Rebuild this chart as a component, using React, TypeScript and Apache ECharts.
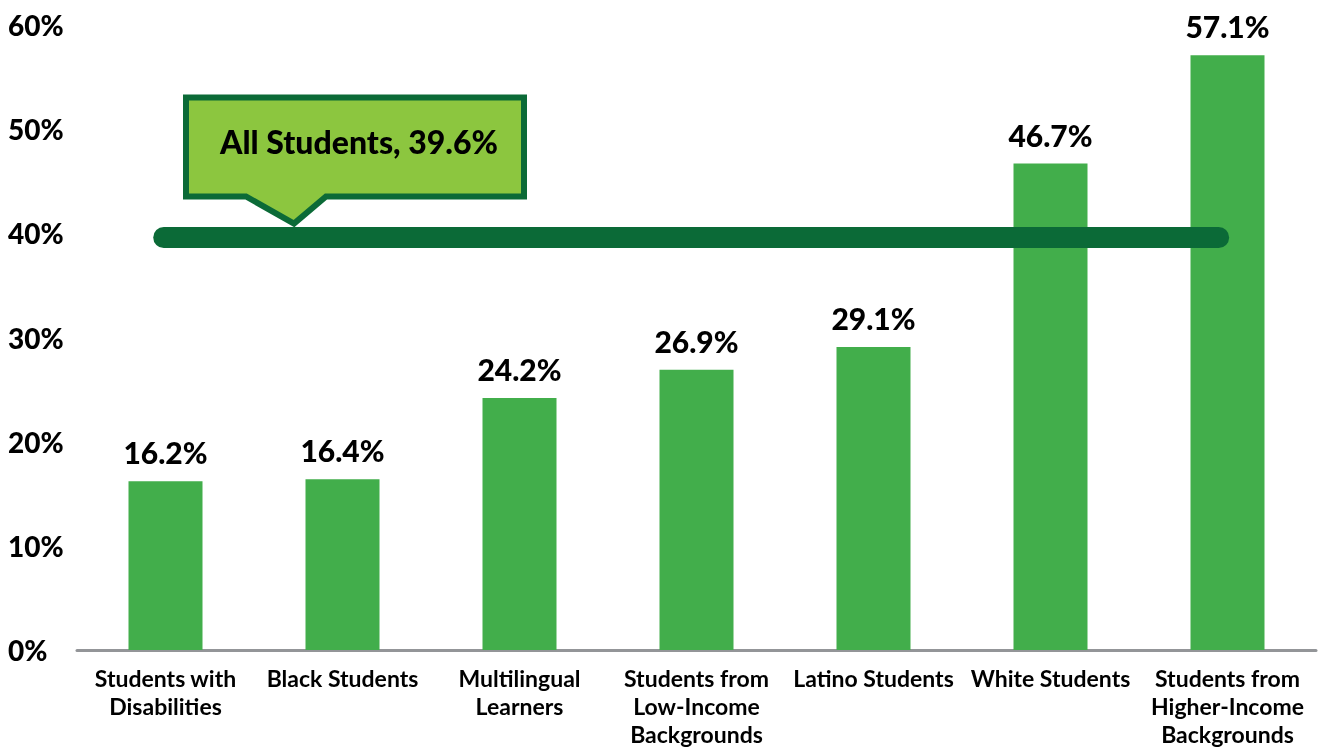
import React, { useEffect, useRef } from "react";
import * as echarts from "echarts";

const CATEGORIES = [
  "Students with\nDisabilities",
  "Black Students",
  "Multilingual\nLearners",
  "Students from\nLow-Income\nBackgrounds",
  "Latino Students",
  "White Students",
  "Students from\nHigher-Income\nBackgrounds",
];
const VALUES = [16.2, 16.4, 24.2, 26.9, 29.1, 46.7, 57.1];
const Y_MIN = 0;
const Y_MAX = 60;
const Y_INTERVAL = 10;
const ALL_STUDENTS = 39.6;
const ALL_LABEL = "All Students, 39.6%";

// styling
const FONT = "Lato";
const WEIGHT = 900;
const BAR_COLOR = "#42ae4b";
const DARK_GREEN = "#0b6a37";
const LIGHT_GREEN = "#8cc63f";
const LINE_SPAN = [-0.01, 5.95];

export default function App() {
  const ref = useRef<HTMLDivElement>(null);
  useEffect(() => {
    if (!ref.current) return;
    const chart = echarts.init(ref.current, null, { renderer: "svg" });
    chart.setOption({
      animation: false,
      grid: { left: 77, right: 4, top: 25, bottom: 103, containLabel: false },
      xAxis: [
        {
          type: "category",
          data: CATEGORIES,
          axisLine: { show: true, lineStyle: { color: "#939598", width: 3 } },
          axisTick: { show: false },
          axisLabel: {
            interval: 0,
            margin: 14,
            fontFamily: FONT,
            fontWeight: "bold",
            fontSize: 23,
            lineHeight: 28,
            color: "#000",
          },
        },
        {
          type: "value",
          min: -0.5,
          max: CATEGORIES.length - 0.5,
          show: false,
        },
      ],
      yAxis: {
        type: "value",
        min: Y_MIN,
        max: Y_MAX,
        interval: Y_INTERVAL,
        axisLine: { show: false },
        axisTick: { show: false },
        splitLine: { show: false },
        axisLabel: {
          formatter: "{value}%",
          align: "left",
          margin: 69,
          fontFamily: FONT,
          fontWeight: WEIGHT,
          fontSize: 28,
          color: "#000",
        },
      },
      series: [
        {
          type: "bar",
          data: VALUES,
          barWidth: 74,
          itemStyle: { color: BAR_COLOR },
          z: 2,
          label: {
            show: true,
            position: "top",
            distance: 14,
            formatter: (p: any) => p.value.toFixed(1) + "%",
            fontFamily: FONT,
            fontWeight: WEIGHT,
            fontSize: 30,
            color: "#000",
          },
        },
        {
          type: "line",
          xAxisIndex: 1,
          data: [
            [LINE_SPAN[0], ALL_STUDENTS],
            [LINE_SPAN[1], ALL_STUDENTS],
          ],
          symbol: "none",
          z: 5,
          lineStyle: { color: DARK_GREEN, width: 21, cap: "round" },
        },
      ],
    });
    const y = chart.convertToPixel({ yAxisIndex: 0 }, ALL_STUDENTS) as number;
    chart.setOption({
      graphic: [
        {
          type: "polygon",
          z: 3,
          shape: {
            points: [
              [186, y - 140],
              [524, y - 140],
              [524, y - 41],
              [326, y - 41],
              [294, y - 14],
              [246, y - 41],
              [186, y - 41],
            ],
          },
          style: {
            fill: LIGHT_GREEN,
            stroke: DARK_GREEN,
            lineWidth: 6,
            lineJoin: "miter",
          },
        },
        {
          type: "text",
          z: 4,
          x: 359,
          y: y - 96,
          style: {
            text: ALL_LABEL,
            fontFamily: FONT,
            fontWeight: WEIGHT,
            fontSize: 32,
            fill: "#000",
            textAlign: "center",
            textVerticalAlign: "middle",
          },
        },
      ],
    });
    return () => chart.dispose();
  }, []);
  return (
    <div
      ref={ref}
      style={{ position: "fixed", left: 0, top: 0, width: 1320, height: 753 }}
    />
  );
}
